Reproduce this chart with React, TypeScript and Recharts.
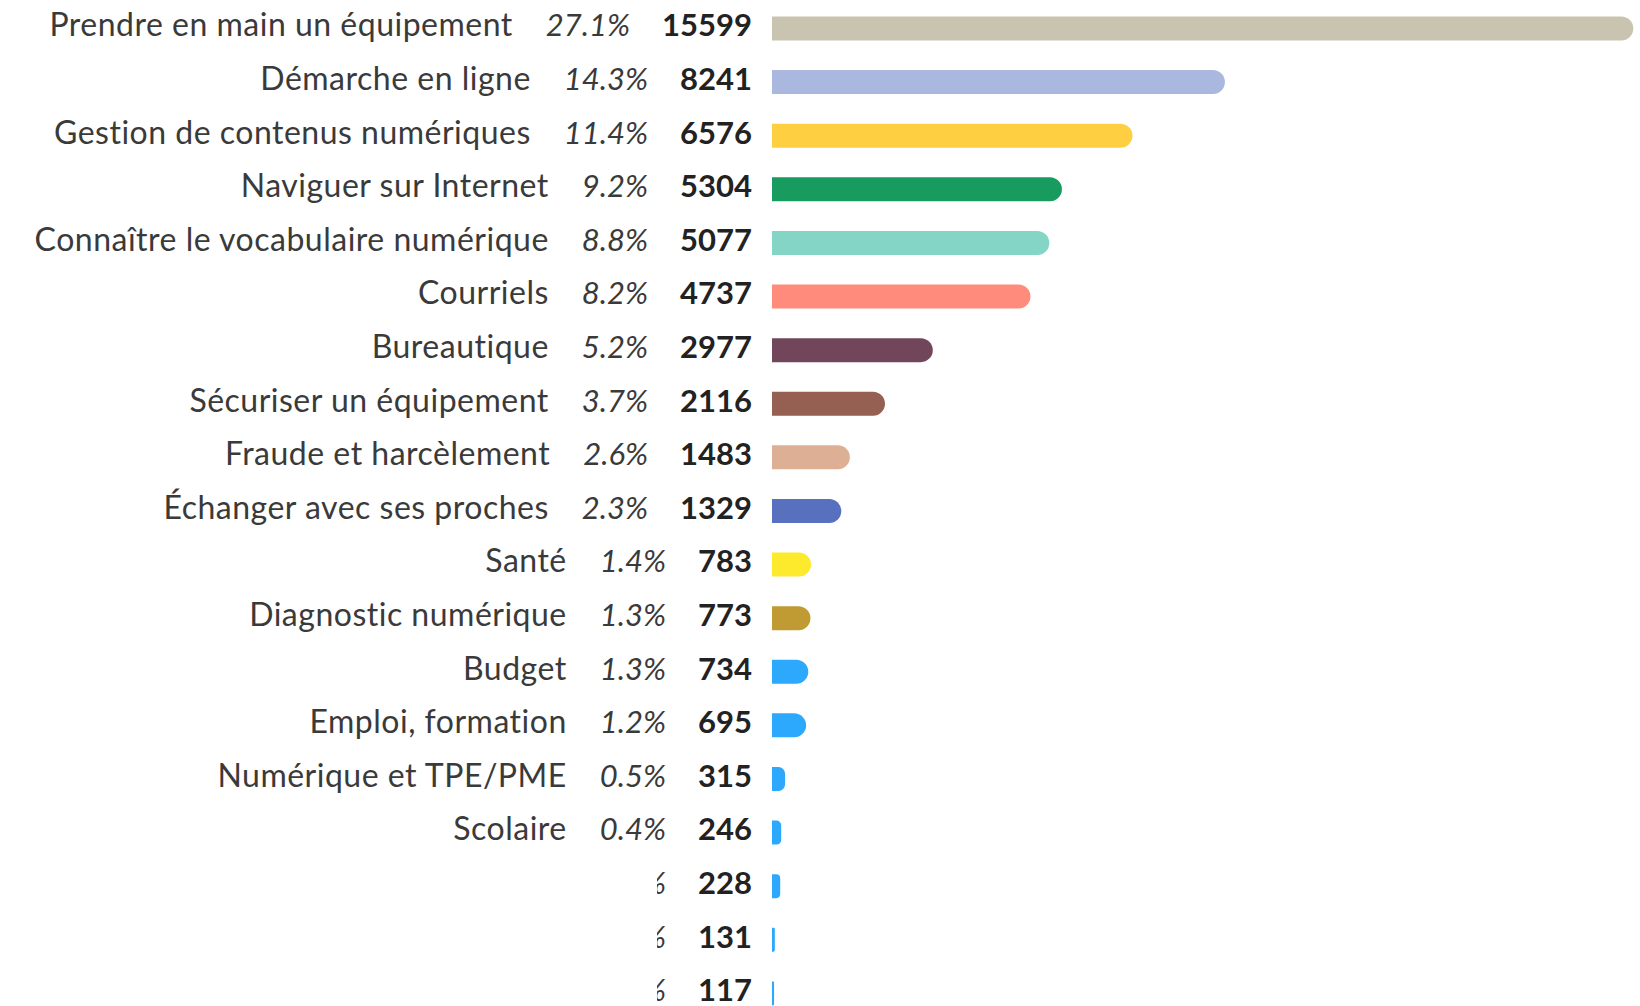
import { BarChart, Bar, XAxis, YAxis, Cell } from 'recharts';

const categories = [
  'Prendre en main un équipement',
  'Démarche en ligne',
  'Gestion de contenus numériques',
  'Naviguer sur Internet',
  'Connaître le vocabulaire numérique',
  'Courriels',
  'Bureautique',
  'Sécuriser un équipement',
  'Fraude et harcèlement',
  'Échanger avec ses proches',
  'Santé',
  'Diagnostic numérique',
  'Budget',
  'Emploi, formation',
  'Numérique et TPE/PME',
  'Scolaire',
  '',
  '',
  '',
];

const counts = [15599, 8241, 6576, 5304, 5077, 4737, 2977, 2116, 1483, 1329, 783, 773, 734, 695, 315, 246, 228, 131, 117];

const percents = ['27.1%', '14.3%', '11.4%', '9.2%', '8.8%', '8.2%', '5.2%', '3.7%', '2.6%', '2.3%', '1.4%', '1.3%', '1.3%', '1.2%', '0.5%', '0.4%', '0.4%', '0.2%', '0.2%'];

const colors = [
  '#c9c4b0', '#aab8e0', '#fecf41', '#189b5f', '#84d5c5', '#fe8b7b', '#71465a',
  '#955f51', '#ddb095', '#5771bf', '#feea2c', '#c09a32', '#2ca9fd', '#2ca9fd',
  '#2ca9fd', '#2ca9fd', '#2ca9fd', '#2ca9fd', '#2ca9fd',
];

const data = categories.map((name, i) => ({ id: i, name, value: counts[i] }));

const FONT = 'Lato, sans-serif';

function RowLabel(props: any) {
  const { y, payload } = props;
  const i = payload.index;
  const hasName = categories[i] !== '';
  const text = (
    <text x={752} y={y + 8} textAnchor="end" fontFamily={FONT} fontSize={31}>
      {hasName && (
        <tspan fill="#3a3a3a" fontSize={32} letterSpacing={0.5}>{categories[i]}</tspan>
      )}
      <tspan dx={hasName ? 33 : 0} fill="#3a3a3a" fontStyle="italic">{percents[i]}</tspan>
      <tspan dx={32} fill="#222" fontWeight={700}>{counts[i]}</tspan>
    </text>
  );
  if (hasName) return text;
  return (
    <g>
      <defs>
        <clipPath id={'cut' + i}>
          <rect x={657} y={y - 30} width={200} height={60} />
        </clipPath>
      </defs>
      <g clipPath={'url(#cut' + i + ')'}>{text}</g>
    </g>
  );
}

export default function App() {
  return (
    <div style={{ position: 'absolute', left: 0, top: 0, background: '#fff' }}>
      <BarChart
        width={1640}
        height={1020}
        data={data}
        layout="vertical"
        margin={{ top: 1.5, right: 6.7, bottom: 0, left: 0 }}
      >
        <XAxis type="number" hide domain={[80, 15599]} />
        <YAxis
          type="category"
          dataKey="id"
          width={772}
          axisLine={false}
          tickLine={false}
          interval={0}
          tick={<RowLabel />}
        />
        <Bar dataKey="value" barSize={24} radius={[0, 12, 12, 0]} isAnimationActive={false}>
          {data.map((d, i) => (
            <Cell key={d.id} fill={colors[i]} />
          ))}
        </Bar>
      </BarChart>
    </div>
  );
}
